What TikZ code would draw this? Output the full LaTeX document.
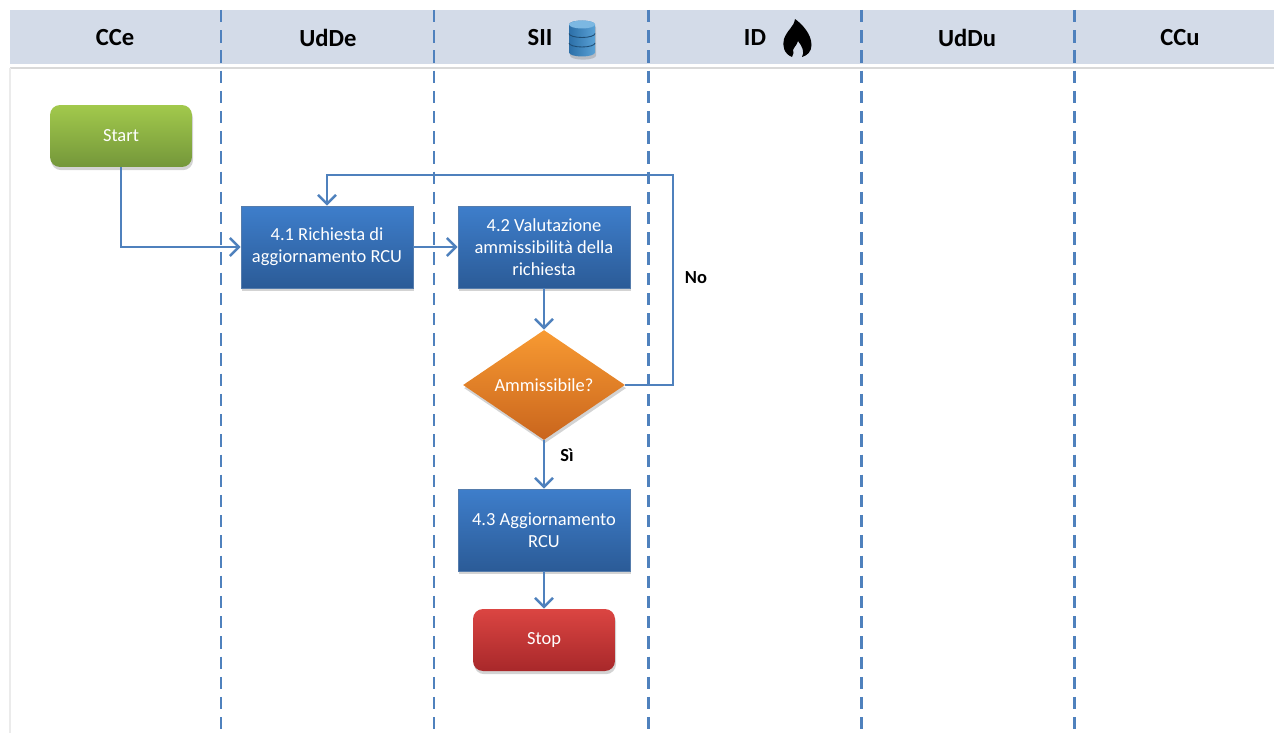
\documentclass[tikz,border=0pt]{standalone}
\usepackage{fontspec}
\setmainfont{Carlito}
\usetikzlibrary{arrows.meta,shapes.geometric,shadows}
\definecolor{headband}{HTML}{D3DBE8}
\definecolor{flowline}{HTML}{4F81BD}
\definecolor{boxtop}{HTML}{3E7ECB}
\definecolor{boxbot}{HTML}{2B5B97}
\definecolor{startop}{HTML}{A2C94C}
\definecolor{starbot}{HTML}{74973A}
\definecolor{dectop}{HTML}{F89A32}
\definecolor{decbot}{HTML}{C9651D}
\definecolor{stoptop}{HTML}{DB4542}
\definecolor{stopbot}{HTML}{A8282A}
\definecolor{dbside}{HTML}{2C6FA8}
\definecolor{dblight}{HTML}{5AA2D6}
\definecolor{dbtop}{HTML}{7CB8E2}
\tikzset{
  lane/.style={flowline, line width=1.7pt, dash pattern=on 7pt off 4.5pt},
  lanetitle/.style={font=\bfseries\fontsize{14}{16}\selectfont, text=black},
  flow/.style={flowline, line width=1.4pt, -{Straight Barb[length=1.8mm,width=3.6mm]}},
  shade/.style={drop shadow={opacity=0.35,shadow xshift=0.6pt,shadow yshift=-1.8pt}},
  procbox/.style={rectangle, minimum width=3.44cm, minimum height=1.64cm,
    align=center, text=white, font=\fontsize{10.5}{12.5}\selectfont,
    top color=boxtop, bottom color=boxbot, draw=boxbot!80!white, shade},
  termbox/.style={rectangle, rounded corners=0.2cm, minimum width=2.84cm, minimum height=1.24cm,
    text=white, font=\fontsize{10.5}{12.5}\selectfont, shade},
  decision/.style={diamond, aspect=1.47, minimum width=3.24cm, minimum height=2.2cm, inner sep=0pt,
    text=white, font=\fontsize{10.5}{12.5}\selectfont, top color=dectop, bottom color=decbot, shade},
  edgelabel/.style={font=\bfseries\fontsize{10.5}{12.5}\selectfont, text=black}
}
\begin{document}
\begin{tikzpicture}[x=0.02cm, y=-0.02cm]
\useasboundingbox (0,0) rectangle (1274,733);
% header band
\fill[headband] (10,10) rectangle (1274,64);
\draw[black!15, line width=0.6pt] (10,68) -- (1274,68);
\draw[black!8, line width=0.6pt] (10,68) -- (10,733);
\foreach \x in {221,434,648,861,1074}
  \draw[lane] (\x,10) -- (\x,733);
\foreach \x/\lbl in {115/CCe,328/UdDe,540/SII,755/ID,967/UdDu,1180/CCu}
  \node[lanetitle] (h\lbl) at (\x,38) {\lbl};
% database icon
\begin{scope}[shift={(582,38)}, x=1cm, y=1cm]
  \shade[left color=dbside, right color=dblight] (-0.26,0.27) -- (-0.26,-0.29)
    arc[start angle=180, end angle=360, x radius=0.26, y radius=0.08] -- (0.26,0.27)
    arc[start angle=0, end angle=180, x radius=0.26, y radius=0.08];
  \fill[dbtop] (0,0.27) ellipse[x radius=0.26, y radius=0.08];
  \draw[dbside!70!black, line width=0.5pt] (-0.26,0.09) arc[start angle=180, end angle=360, x radius=0.26, y radius=0.08];
  \draw[dbside!70!black, line width=0.5pt] (-0.26,-0.10) arc[start angle=180, end angle=360, x radius=0.26, y radius=0.08];
\end{scope}
% flame icon
\begin{scope}[shift={(797,38)}, x=1cm, y=1cm]
  \fill[black] (-0.10,-0.38) .. controls (-0.26,-0.32) and (-0.30,-0.15) .. (-0.26,-0.02)
    .. controls (-0.20,0.16) and (-0.06,0.22) .. (-0.04,0.38)
    .. controls (0.10,0.28) and (0.29,0.08) .. (0.29,-0.14)
    .. controls (0.29,-0.28) and (0.20,-0.35) .. (0.10,-0.38)
    .. controls (0.16,-0.28) and (0.10,-0.16) .. (0.02,-0.06)
    .. controls (0.00,-0.16) and (-0.12,-0.22) .. (-0.07,-0.30)
    .. controls (-0.07,-0.34) .. (-0.10,-0.38) -- cycle;
\end{scope}
% flow
\node[termbox, top color=startop, bottom color=starbot] (start) at (121,136) {Start};
\node[procbox] (req) at (327,247) {4.1 Richiesta di\\aggiornamento RCU};
\node[procbox] (eval) at (544,247) {4.2 Valutazione\\ammissibilità della\\richiesta};
\node[decision] (adm) at (544,385) {Ammissibile?};
\node[procbox] (upd) at (544,530) {4.3 Aggiornamento\\RCU};
\node[termbox, top color=stoptop, bottom color=stopbot] (stop) at (544,640) {Stop};
\coordinate (loop) at (673,175);
\draw[flow] (start.south) |- (req.west);
\draw[flow] (req) -- (eval);
\draw[flow] (eval) -- (adm);
\draw[flow] (adm.east) -| (loop) -| (req.north);
\draw[flow] (adm) -- (upd);
\draw[flow] (upd) -- (stop);
\node[edgelabel] (no) at (696,278) {No};
\node[edgelabel] (si) at (567,455) {Sì};
\end{tikzpicture}
\end{document}
